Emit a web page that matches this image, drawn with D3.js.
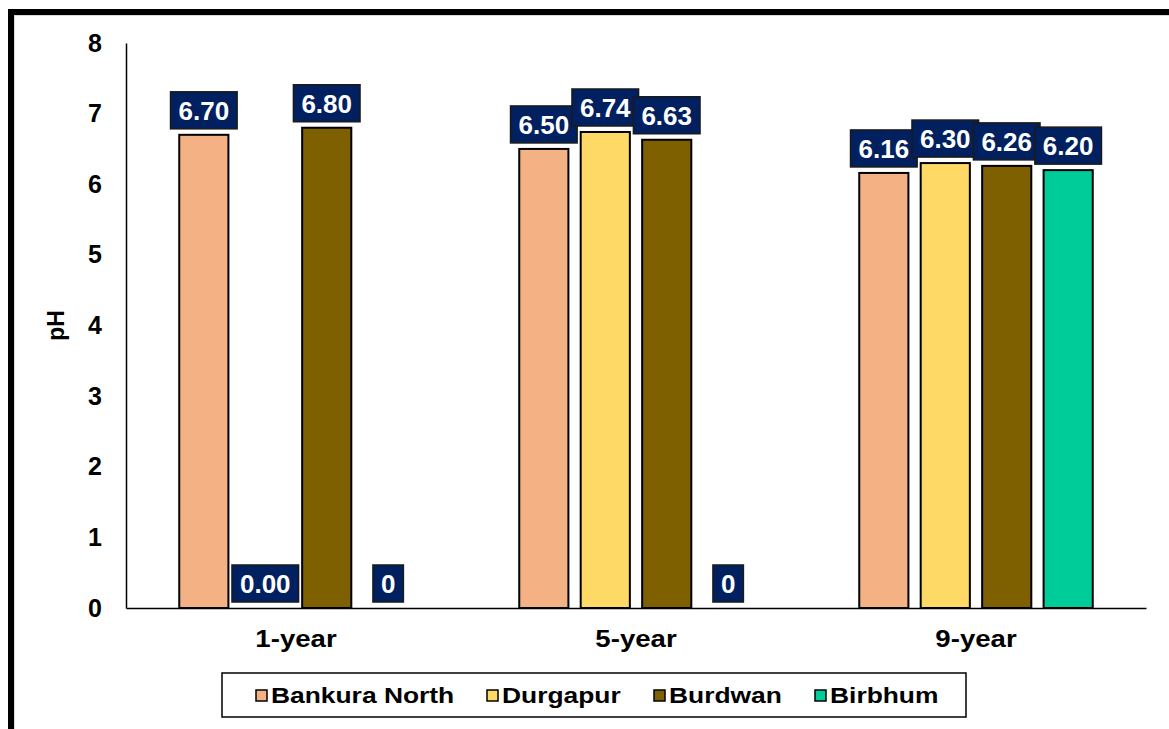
<!DOCTYPE html>
<html>
<head>
<meta charset="utf-8">
<script src="https://cdn.jsdelivr.net/npm/d3@7"></script>
<style>
    body { margin: 0; background: #ffffff; }
    text { font-family: Arial, "Liberation Sans", sans-serif; font-weight: bold; }
</style>
</head>
<body>
<div id="vis"></div>
<script>
var categories = ['1-year', '5-year', '9-year'];
var series = ['Bankura North', 'Durgapur', 'Burdwan', 'Birbhum'];
var colors = ['#F4B183', '#FFD966', '#7F6000', '#00CC99'];

// values per series, one per category
var bankuraNorth = [6.70, 6.50, 6.16];
var durgapur = [0.00, 6.74, 6.30];
var burdwan = [6.80, 6.63, 6.26];
var birbhum = [0, 0, 6.20];

// label text as shown on the chart
var bankuraLabels = ['6.70', '6.50', '6.16'];
var durgapurLabels = ['0.00', '6.74', '6.30'];
var burdwanLabels = ['6.80', '6.63', '6.26'];
var birbhumLabels = ['0', '0', '6.20'];

var yTicks = [0, 1, 2, 3, 4, 5, 6, 7, 8];

var allValues = [bankuraNorth, durgapur, burdwan, birbhum];
var allLabels = [bankuraLabels, durgapurLabels, burdwanLabels, birbhumLabels];

var width = 1169, height = 729;
var margin = { left: 126, right: 23, top: 43, bottom: 121 };
var drawWidth = width - margin.left - margin.right;
var drawHeight = height - margin.top - margin.bottom;

var svg = d3.select('#vis').append('svg')
    .attr('width', width)
    .attr('height', height);

// outer frame (only top and left edges visible)
svg.append('line').attr('x1', 8).attr('x2', width).attr('y1', 12).attr('y2', 12)
    .attr('stroke', '#000').attr('stroke-width', 6);
svg.append('line').attr('x1', 11).attr('x2', 11).attr('y1', 9).attr('y2', height)
    .attr('stroke', '#000').attr('stroke-width', 6);
svg.append('line').attr('x1', 14).attr('x2', width).attr('y1', 15.5).attr('y2', 15.5)
    .attr('stroke', '#d9d9d9').attr('stroke-width', 1);
svg.append('line').attr('x1', 14.5).attr('x2', 14.5).attr('y1', 15).attr('y2', height)
    .attr('stroke', '#d9d9d9').attr('stroke-width', 1);

var g = svg.append('g')
    .attr('transform', 'translate(' + margin.left + ',' + margin.top + ')');

var x0 = d3.scaleBand().domain(categories).range([0, drawWidth]).padding(0);
var groupWidth = 233.5;
var x1 = d3.scaleBand().domain(series).range([0, groupWidth]).paddingInner(0.2).paddingOuter(0);
var yScale = d3.scaleLinear().domain([0, 8]).range([drawHeight, 0]);

// y axis
var yAxis = d3.axisLeft(yScale).tickValues(yTicks).tickSize(0).tickPadding(24).tickFormat(d3.format('d'));
var yAxisG = g.append('g').call(yAxis);
yAxisG.select('.domain').attr('stroke', '#000').attr('stroke-width', 1.5);
yAxisG.selectAll('text').attr('font-size', 25).attr('fill', '#000')
    .attr('font-family', 'Arial, "Liberation Sans", sans-serif');

// bars
var data = [];
categories.forEach(function(c, ci) {
    series.forEach(function(s, si) {
        data.push({ cat: c, series: s, si: si, value: allValues[si][ci], label: allLabels[si][ci] });
    });
});

var groups = g.selectAll('.grp').data(categories).enter().append('g')
    .attr('class', 'grp')
    .attr('transform', d => 'translate(' + (x0(d) + (x0.bandwidth() - groupWidth) / 2) + ',0)');

groups.selectAll('rect').data(c => data.filter(d => d.cat == c && d.value > 0))
    .enter().append('rect')
    .attr('x', d => x1(d.series))
    .attr('y', d => yScale(d.value))
    .attr('width', x1.bandwidth())
    .attr('height', d => drawHeight - yScale(d.value))
    .attr('fill', d => colors[d.si])
    .attr('stroke', '#000')
    .attr('stroke-width', 2);

// x axis line
var xAxis = d3.axisBottom(x0).tickSize(0).tickPadding(22);
var xAxisG = g.append('g').attr('transform', 'translate(0,' + drawHeight + ')').call(xAxis);
xAxisG.select('.domain').attr('stroke', '#000').attr('stroke-width', 1.5);
xAxisG.selectAll('text')
    .attr('font-size', 24).attr('fill', '#000')
    .attr('font-family', 'Arial, "Liberation Sans", sans-serif')
    .attr('transform', 'scale(1.15,1)')
    .attr('x', 0);

// data labels
groups.each(function(c) {
    var grp = d3.select(this);
    data.filter(d => d.cat == c).forEach(function(d) {
        var cx = x1(d.series) + x1.bandwidth() / 2;
        var bottom = yScale(d.value) - 6;
        var lab = grp.append('g');
        var t = lab.append('text')
            .attr('x', cx)
            .attr('y', bottom - 9)
            .attr('text-anchor', 'middle')
            .attr('font-size', 26)
            .attr('fill', '#fff')
            .text(d.label);
        var w = t.node().getComputedTextLength() + 16;
        lab.insert('rect', 'text')
            .attr('x', cx - w / 2)
            .attr('y', bottom - 37)
            .attr('width', w)
            .attr('height', 37)
            .attr('fill', '#002060')
            .attr('stroke', '#1a1a1a')
            .attr('stroke-width', 1.5);
    });
});

// y axis title
svg.append('text')
    .attr('transform', 'translate(64,' + (margin.top + drawHeight / 2) + ') rotate(-90)')
    .attr('text-anchor', 'middle')
    .attr('font-size', 23)
    .text('pH');

// legend
var legend = svg.append('g').attr('transform', 'translate(222,673)');
legend.append('rect').attr('width', 744).attr('height', 44)
    .attr('fill', '#fff').attr('stroke', '#000').attr('stroke-width', 1.5);
var legendX = [34, 265, 432, 593];
series.forEach(function(s, i) {
    var item = legend.append('g').attr('transform', 'translate(' + legendX[i] + ',0)');
    item.append('rect').attr('x', 0).attr('y', 17).attr('width', 11).attr('height', 11)
        .attr('fill', colors[i]).attr('stroke', '#000').attr('stroke-width', 1.5);
    item.append('text').attr('transform', 'translate(15,30) scale(1.2,1)')
        .attr('font-size', 22).text(s);
});
</script>
</body>
</html>
